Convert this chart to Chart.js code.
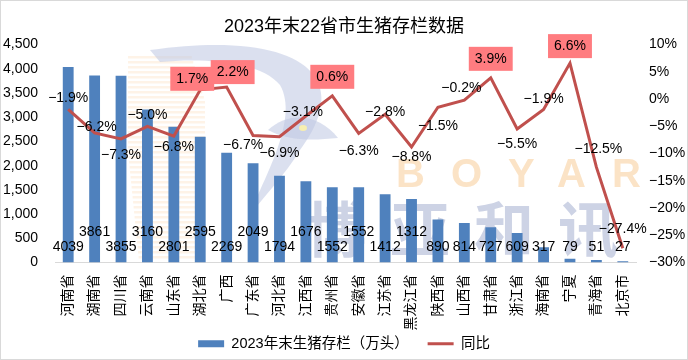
<!DOCTYPE html>
<html lang="zh-CN">
<head>
  <meta charset="UTF-8" />
  <title>2023年末22省市生猪存栏数据</title>
  <script src="https://cdn.jsdelivr.net/npm/chart.js"></script>
  <style>
    body {
      margin: 0;
      background: #fff;
    }
    #wrap {
      width: 688px;
      height: 360px;
    }
  </style>
</head>
<body>
  <div id="wrap"><canvas id="pigChart" width="688" height="360"></canvas></div>

  <script>
    // 数据
    const provinces = ["河南省", "湖南省", "四川省", "云南省", "山东省", "湖北省", "广西", "广东省", "河北省", "江西省", "贵州省",
                       "安徽省", "江苏省", "黑龙江省", "陕西省", "山西省", "甘肃省", "浙江省", "海南省", "宁夏", "青海省", "北京市"];
    const stock = [4039, 3861, 3855, 3160, 2801, 2595, 2269, 2049, 1794, 1676, 1552,
                   1552, 1412, 1312, 890, 814, 727, 609, 317, 79, 51, 27];
    const yoy = [-1.9, -6.2, -7.3, -5.0, -6.8, 1.7, 2.2, -6.7, -6.9, -3.1, 0.6,
                 -6.3, -2.8, -8.8, -1.5, -0.2, 3.9, -5.5, -1.9, 6.6, -12.5, -27.4];
    const stockTicks = [0, 500, 1000, 1500, 2000, 2500, 3000, 3500, 4000, 4500];
    const yoyTicks = [-30, -25, -20, -15, -10, -5, 0, 5, 10];

    // 标签摆放（样式）
    const barLabelHigh = [0, 1, 0, 1, 0, 1, 0, 1, 0, 1, 0, 1, 0, 1, 0, 0, 0, 0, 0, 0, 0, 0];
    const lineLabelDy = [-11, -6, 16, -11, 11, -11, -15, 10, 16, -4, -19, 18, -2, 10, 19, -12, -19, 15, -10, -17, -18, -19];
    const lineLabelDx = [0, 2, 0, 0, 0, -8, 6, -10, 0, -3, 0, 0, 0, 0, 0, -3, 0, 0, 0, 0, 2, 0];

    const FONT = "'Liberation Sans', 'Noto Sans CJK SC', sans-serif";
    const BLUE = '#4f81bd';
    const RED = '#c0504d';

    const pct = v => (v < 0 ? '\u2212' : '') + Math.abs(v) + '%';
    const pct1 = v => (v < 0 ? '\u2212' : '') + Math.abs(v).toFixed(1) + '%';

    // 背景水印
    const watermark = {
      id: 'watermark',
      afterLayout(chart) {
        // x轴标签较长（黑龙江省），不裁剪到轴框内
        chart.scales.x._computeLabelArea = () => null;
      },
      beforeDatasetsDraw(chart) {
        const ctx = chart.ctx;
        ctx.save();
        // 左侧橙色条纹
        ctx.fillStyle = '#fef3e7';
        for (let y = 56; y < 258; y += 5) {
          const left = 128 + Math.max(0, (y - 150) * 0.1);
          ctx.fillRect(left, y, 205 - left - (y < 100 ? (100 - y) * 0.3 : 0), 2.5);
        }
        // 蓝灰色弧形
        ctx.fillStyle = 'rgba(190, 199, 225, 0.55)';
        ctx.beginPath();
        ctx.moveTo(150, 50);
        ctx.bezierCurveTo(290, 30, 360, 70, 300, 150);
        ctx.bezierCurveTo(285, 175, 265, 195, 250, 215);
        ctx.bezierCurveTo(262, 180, 300, 120, 280, 85);
        ctx.bezierCurveTo(260, 60, 200, 58, 160, 62);
        ctx.closePath();
        ctx.fill();
        ctx.beginPath();
        ctx.moveTo(268, 130);
        ctx.bezierCurveTo(290, 110, 320, 115, 338, 138);
        ctx.bezierCurveTo(315, 140, 290, 142, 268, 130);
        ctx.fill();
        ctx.fillStyle = '#f7efb0';
        ctx.beginPath();
        ctx.ellipse(303, 128, 4, 3, 0, 0, Math.PI * 2);
        ctx.fill();
        // 文字水印
        ctx.textAlign = 'left';
        ctx.textBaseline = 'alphabetic';
        ctx.font = "bold 40px 'Liberation Sans', sans-serif";
        ctx.fillStyle = '#fbe3c6';
        ctx.letterSpacing = '26px';
        ctx.fillText('BOYAR', 396, 187);
        ctx.font = "bold 60px 'Noto Sans CJK SC', sans-serif";
        ctx.fillStyle = '#cdd3e5';
        ctx.letterSpacing = '24px';
        ctx.fillText('博亚和讯', 306, 252);
        ctx.restore();
      }
    };

    const valueLabels = {
      id: 'valueLabels',
      afterDatasetsDraw(chart) {
        const ctx = chart.ctx;
        const base = chart.scales.y.getPixelForValue(0);
        ctx.save();
        ctx.font = '14px ' + FONT;
        ctx.textAlign = 'center';
        ctx.textBaseline = 'middle';
        ctx.fillStyle = '#000';
        chart.getDatasetMeta(0).data.forEach((bar, i) => {
          ctx.fillText(String(stock[i]), bar.x, base - (barLabelHigh[i] ? 30 : 15));
        });
        chart.getDatasetMeta(1).data.forEach((pt, i) => {
          const text = pct1(yoy[i]);
          const x = pt.x + lineLabelDx[i];
          const y = pt.y + lineLabelDy[i];
          if (yoy[i] > 0) {
            const w = ctx.measureText(text).width + 12;
            ctx.fillStyle = '#ff7c80';
            ctx.fillRect(x - w / 2, y - 12, w, 24);
          }
          ctx.fillStyle = '#000';
          ctx.fillText(text, x, y);
        });
        ctx.restore();
      },
      afterDraw(chart) {
        const ctx = chart.ctx;
        ctx.save();
        ctx.strokeStyle = '#d9d9d9';
        ctx.lineWidth = 1;
        ctx.strokeRect(0.5, 0.5, 687, 359);
        ctx.restore();
      }
    };

    Chart.defaults.font.family = FONT;
    Chart.defaults.font.size = 14;
    Chart.defaults.color = '#000';

    new Chart(document.getElementById('pigChart'), {
      type: 'bar',
      data: {
        labels: provinces,
        datasets: [
          {
            type: 'bar',
            label: '2023年末生猪存栏（万头）',
            data: stock,
            backgroundColor: BLUE,
            borderWidth: 0,
            categoryPercentage: 1,
            barPercentage: 0.41,
            yAxisID: 'y',
            order: 2
          },
          {
            type: 'line',
            label: '同比',
            data: yoy,
            borderColor: RED,
            backgroundColor: RED,
            borderWidth: 3,
            pointRadius: 0,
            tension: 0,
            yAxisID: 'y1',
            order: 1
          }
        ]
      },
      options: {
        responsive: false,
        animation: false,
        devicePixelRatio: 1,
        layout: { padding: { left: 0, right: 0, top: 0, bottom: -1 } },
        plugins: {
          title: {
            display: true,
            text: '2023年末22省市生猪存栏数据',
            font: { size: 18, weight: 'normal' },
            color: '#000',
            padding: { top: 16, bottom: 7 }
          },
          legend: {
            position: 'bottom',
            labels: {
              usePointStyle: true,
              pointStyleWidth: 26,
              boxHeight: 7,
              padding: 19,
              font: { size: 14.5 },
              sort: (a, b) => a.datasetIndex - b.datasetIndex,
              generateLabels(chart) {
                const items = Chart.defaults.plugins.legend.labels.generateLabels(chart);
                items.forEach(it => {
                  if (it.datasetIndex === 0) {
                    it.pointStyle = 'rect';
                    it.lineWidth = 0;
                    it.fillStyle = BLUE;
                  } else {
                    it.pointStyle = 'line';
                    it.lineWidth = 3;
                    it.strokeStyle = RED;
                  }
                });
                return items;
              }
            }
          },
          tooltip: { enabled: false }
        },
        scales: {
          x: {
            grid: { display: false, drawTicks: false },
            border: { display: true, color: '#d9d9d9' },
            ticks: { autoSkip: false, minRotation: 90, maxRotation: 90, padding: 12, font: { size: 14 } },
            afterFit: s => { s.height = 55; }
          },
          y: {
            position: 'left',
            min: 0,
            max: 4500,
            grid: { display: false, drawTicks: false },
            border: { display: false },
            afterBuildTicks: s => { s.ticks = stockTicks.map(v => ({ value: v })); },
            ticks: { padding: 17, callback: v => v.toLocaleString('en-US') },
            afterFit: s => { s.width = 55; }
          },
          y1: {
            position: 'right',
            min: -30,
            max: 10,
            grid: { display: false, drawTicks: false },
            border: { display: false },
            afterBuildTicks: s => { s.ticks = yoyTicks.map(v => ({ value: v })); },
            ticks: { padding: 13, callback: v => pct(v) },
            afterFit: s => { s.width = 52; }
          }
        }
      },
      plugins: [watermark, valueLabels]
    });
  </script>
</body>
</html>
